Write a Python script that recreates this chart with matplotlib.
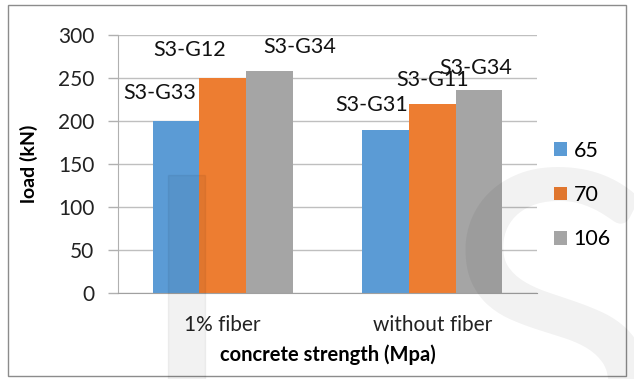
import numpy as np
import matplotlib.pyplot as plt
from matplotlib.patches import Rectangle

plt.rcParams['font.family'] = ['Lato', 'DejaVu Sans']

# data
groups = ["1% fiber", "without fiber"]
strengths = ["65", "70", "106"]
load_65 = [200, 190]
load_70 = [250, 220]
load_106 = [258, 236]
specimens_65 = ["S3-G33", "S3-G31"]
specimens_70 = ["S3-G12", "S3-G11"]
specimens_106 = ["S3-G34", "S3-G34"]

colors = ["#5b9bd5", "#ed7d31", "#a5a5a5"]
series = [load_65, load_70, load_106]
labels = [specimens_65, specimens_70, specimens_106]
# hand-placed label offsets (points) per series / group
offsets = [[(-12, 20), (-10, 18)],
           [(-24, 20), (0, 17)],
           [(22, 17), (-2, 16)]]

fig = plt.figure(figsize=(6.34, 3.79), dpi=100)
ax = fig.add_axes([0.1861, 0.2269, 0.6609, 0.6808])

x = np.arange(len(groups))
w = 0.222
for i, (vals, c) in enumerate(zip(series, colors)):
    pos = x + (i - 1) * w
    ax.bar(pos, vals, width=w, color=c, label=strengths[i], zorder=2)
    for j, v in enumerate(vals):
        ax.annotate(labels[i][j], (pos[j], v), xytext=offsets[i][j],
                    textcoords="offset points", ha="center", va="center",
                    fontsize=15.5, color="#111111")

ax.set_xlim(-0.5, 1.5)
ax.set_ylim(0, 300)
ax.set_yticks(range(0, 301, 50))
ax.set_xticks(x)
ax.set_xticklabels(groups, fontsize=15, color="#222222")
ax.tick_params(axis="y", labelsize=15, labelcolor="#222222", length=7,
               color="#b0b0b0", width=1, pad=10)
ax.tick_params(axis="x", length=0, pad=16)
ax.yaxis.grid(True, color="#bfbfbf", linewidth=1, zorder=0)
ax.set_axisbelow(True)
for s in ["top", "right"]:
    ax.spines[s].set_visible(False)
ax.spines["left"].set_color("#b0b0b0")
ax.spines["bottom"].set_color("#a0a0a0")

ax.set_ylabel("load (kN)", fontsize=14, fontweight="bold")
ax.yaxis.set_label_coords(-0.19, 0.5)
ax.set_xlabel("concrete strength (Mpa)", fontsize=14.5, fontweight="bold")
ax.xaxis.set_label_coords(0.5, -0.2)

ax.legend(loc="center left", bbox_to_anchor=(0.995, 0.38), frameon=False,
          fontsize=15.5, handlelength=0.6, handleheight=0.6, handletextpad=0.3,
          labelspacing=1.13)

# faint watermark
fig.patches.append(Rectangle((168 / 634, 0), 37 / 634, 1 - 175 / 379,
                             transform=fig.transFigure, color="black",
                             alpha=0.05, zorder=5))
fig.text(0.87, -0.24, "S", fontsize=300, color="black", alpha=0.05,
         ha="center", va="baseline", zorder=5)

# outer frame
fig.patches.append(Rectangle((8 / 634, 3 / 379), 618 / 634, 371 / 379,
                             transform=fig.transFigure, fill=False,
                             edgecolor="#8c8c8c", linewidth=1))

fig.savefig("out.png", dpi=100)
